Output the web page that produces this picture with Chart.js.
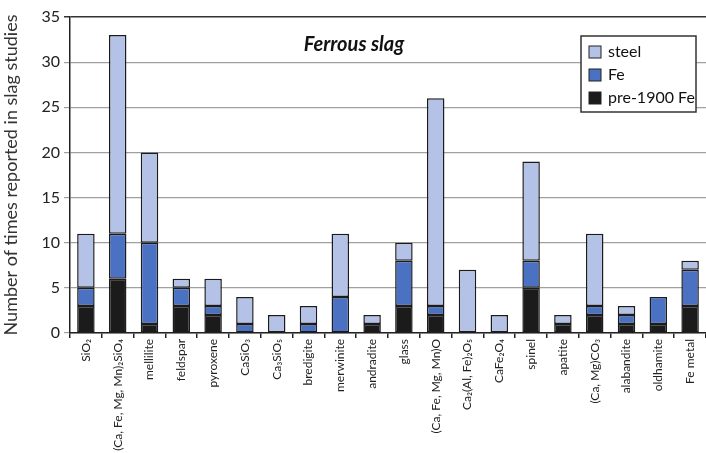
<!DOCTYPE html>
<html>
<head>
<meta charset="utf-8">
<script src="https://cdn.jsdelivr.net/npm/chart.js@4/dist/chart.umd.min.js"></script>
<style>
  html, body { margin: 0; padding: 0; background: #fff; }
  #wrap { width: 706px; height: 453px; }
</style>
</head>
<body>
<div id="wrap"><canvas id="c" width="706" height="453"></canvas></div>
<script>
// Slag phases reported in ferrous slag studies
const categories = [
  'SiO₂', '(Ca, Fe, Mg, Mn)₂SiO₄', 'mellilite', 'feldspar', 'pyroxene',
  'CaSiO₃', 'Ca₃SiO₅', 'bredigite', 'merwinite', 'andradite',
  'glass', '(Ca, Fe, Mg, Mn)O', 'Ca₂(Al, Fe)₂O₅', 'CaFe₂O₄', 'spinel',
  'apatite', '(Ca, Mg)CO₃', 'alabandite', 'oldhamite', 'Fe metal'
];
const pre1900Fe = [3, 6, 1, 3, 2, 0, 0, 0, 0, 1, 3, 2, 0, 0, 5, 1, 2, 1, 1, 3];
const fe        = [2, 5, 9, 2, 1, 1, 0, 1, 4, 0, 5, 1, 0, 0, 3, 0, 1, 1, 3, 4];
const steel     = [6, 22, 10, 1, 3, 3, 2, 2, 7, 1, 2, 23, 7, 2, 11, 1, 8, 1, 0, 1];
const yTicks    = [0, 5, 10, 15, 20, 25, 30, 35];

const colours = { pre: '#1b1b1b', fe: '#4a71c2', steel: '#b3c2e6' };
const edge = '#1b1b1b';
const FONT = 'Lato, "Open Sans", "DejaVu Sans", sans-serif';

// Title drawn inside the plot area
const plotTitle = {
  id: 'plotTitle',
  afterDraw(chart) {
    const { ctx, chartArea } = chart;
    ctx.save();
    ctx.font = 'italic bold 20px ' + FONT;
    ctx.fillStyle = '#111';
    ctx.textAlign = 'center';
    ctx.textBaseline = 'middle';
    ctx.fillText('Ferrous slag', chartArea.left + 284, chartArea.top + 28);
    ctx.restore();
  }
};

// Boxed legend in the upper right of the plot, listed top-down as stacked
const boxLegend = {
  id: 'boxLegend',
  afterDraw(chart) {
    const { ctx, chartArea } = chart;
    const items = chart.data.datasets.slice().reverse();
    const x = chartArea.right - 125, y = chartArea.top + 19;
    const w = 115, h = 76;
    ctx.save();
    ctx.fillStyle = '#fff';
    ctx.fillRect(x, y, w, h);
    ctx.strokeStyle = '#333';
    ctx.lineWidth = 1.5;
    ctx.strokeRect(x, y, w, h);
    ctx.font = '16px ' + FONT;
    ctx.textBaseline = 'middle';
    items.forEach((ds, i) => {
      const cy = y + 16 + i * 23;
      ctx.fillStyle = ds.backgroundColor;
      ctx.fillRect(x + 8, cy - 6, 12, 12);
      ctx.strokeStyle = '#222';
      ctx.lineWidth = 1;
      ctx.strokeRect(x + 8, cy - 6, 12, 12);
      ctx.fillStyle = '#111';
      ctx.textAlign = 'left';
      ctx.fillText(ds.label, x + 27, cy);
    });
    ctx.restore();
  }
};

new Chart(document.getElementById('c'), {
  type: 'bar',
  data: {
    labels: categories,
    datasets: [
      { label: 'pre-1900 Fe', data: pre1900Fe, backgroundColor: colours.pre },
      { label: 'Fe', data: fe, backgroundColor: colours.fe },
      { label: 'steel', data: steel, backgroundColor: colours.steel }
    ].map(d => Object.assign(d, {
      borderColor: edge,
      borderWidth: ctx => (ctx.raw ? 1.5 : 0),
      borderSkipped: false,
      barPercentage: 0.55, categoryPercentage: 1.0
    }))
  },
  options: {
    responsive: false,
    animation: false,
    layout: { padding: { top: 17, right: 0, left: 0, bottom: 0 } },
    plugins: {
      legend: { display: false },
      tooltip: { enabled: false },
      title: { display: false }
    },
    scales: {
      x: {
        stacked: true,
        grid: {
          offset: true, drawOnChartArea: false, drawTicks: true,
          tickLength: 5, color: '#222', lineWidth: 1.5
        },
        border: { color: '#222', width: 1.5 },
        ticks: {
          autoSkip: false, maxRotation: 90, minRotation: 90,
          padding: 1, color: '#222',
          font: { family: FONT, size: 12 }
        },
        afterFit(scale) { scale.height = 120; }
      },
      y: {
        stacked: true,
        min: 0, max: 35,
        afterBuildTicks(scale) { scale.ticks = yTicks.map(v => ({ value: v })); },
        grid: {
          color: ctx => (ctx.tick && ctx.tick.value === 35) ? '#333' : '#a0a0a0',
          lineWidth: ctx => (ctx.tick && ctx.tick.value === 35) ? 1.5 : 1.2,
          drawTicks: true, tickLength: 6
        },
        border: { color: '#222', width: 1.5 },
        ticks: {
          padding: 4, color: '#222',
          font: { family: FONT, size: 16 }
        },
        title: {
          display: true,
          text: 'Number of times reported in slag studies',
          color: '#333',
          padding: { top: 0, bottom: 4 },
          font: { family: FONT, size: 18 }
        },
        afterFit(scale) { scale.width = 70; }
      }
    }
  },
  plugins: [plotTitle, boxLegend]
});
</script>
</body>
</html>
